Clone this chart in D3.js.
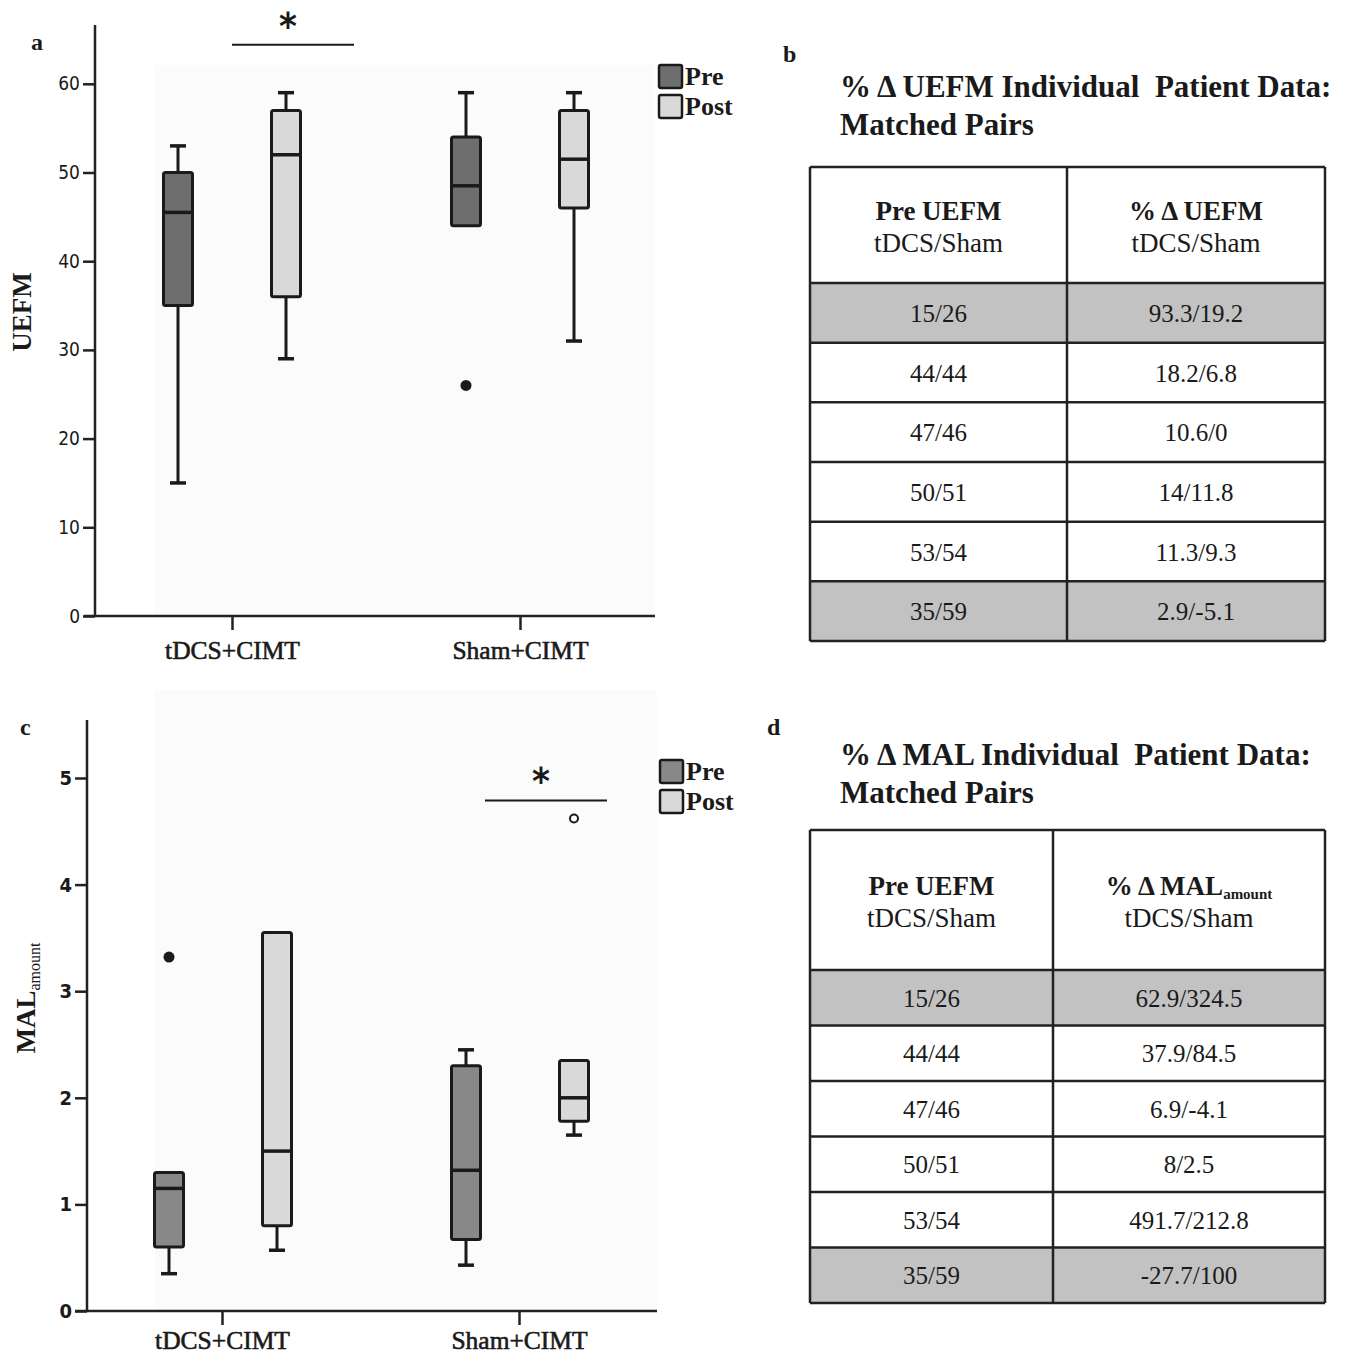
<!DOCTYPE html>
<html>
<head>
<meta charset="utf-8">
<script src="https://cdn.jsdelivr.net/npm/d3@7"></script>
<style>
  body { margin: 0; background: #fff; }
  svg text { fill: #1a1a1a; }
</style>
</head>
<body>
<div id="chart"></div>
<script>
// ---- data ----
var groups = ["tDCS+CIMT", "Sham+CIMT"];
var phases = ["Pre", "Post"];

// box stats: [group, phase, lowWhisker, q1, median, q3, highWhisker]
var uefmBoxes = [
  ["tDCS+CIMT", "Pre", 15, 35, 45.5, 50, 53],
  ["tDCS+CIMT", "Post", 29, 36, 52, 57, 59],
  ["Sham+CIMT", "Pre", 44, 44, 48.5, 54, 59],
  ["Sham+CIMT", "Post", 31, 46, 51.5, 57, 59]
];
var uefmOutliers = [["Sham+CIMT", "Pre", 26, "filled"]];
var uefmTicks = [0, 10, 20, 30, 40, 50, 60];
var uefmSig = ["tDCS+CIMT", 64.4];

var malBoxes = [
  ["tDCS+CIMT", "Pre", 0.35, 0.6, 1.15, 1.3, 1.3],
  ["tDCS+CIMT", "Post", 0.57, 0.8, 1.5, 3.55, 3.55],
  ["Sham+CIMT", "Pre", 0.43, 0.67, 1.32, 2.3, 2.45],
  ["Sham+CIMT", "Post", 1.65, 1.78, 2.0, 2.35, 2.35]
];
var malOutliers = [
  ["tDCS+CIMT", "Pre", 3.32, "filled"],
  ["Sham+CIMT", "Post", 4.62, "open"]
];
var malTicks = [0, 1, 2, 3, 4, 5];
var malSig = ["Sham+CIMT", 4.79];

var pairsPre = ["15/26", "44/44", "47/46", "50/51", "53/54", "35/59"];
var uefmChange = ["93.3/19.2", "18.2/6.8", "10.6/0", "14/11.8", "11.3/9.3", "2.9/-5.1"];
var malChange = ["62.9/324.5", "37.9/84.5", "6.9/-4.1", "8/2.5", "491.7/212.8", "-27.7/100"];
var shadedRows = [0, 5];

// ---- svg ----
var svgWidth = 1353, svgHeight = 1357;
var svg = d3.select("#chart").append("svg").attr("width", svgWidth).attr("height", svgHeight);

var serif = "'Liberation Serif', 'Times New Roman', serif";
var sans = "'DejaVu Sans Condensed', 'Liberation Sans', sans-serif";

function drawBoxPanel(opt) {
  var g = svg.append("g");

  // faint plot background
  g.append("rect")
    .attr("x", 155).attr("y", opt.bgTop)
    .attr("width", opt.xRight - 155).attr("height", opt.y0 - opt.bgTop)
    .attr("fill", "#fbfbfb");

  var y = d3.scaleLinear().domain([0, opt.yMax]).range([opt.y0, opt.yTop]);
  var x = d3.scalePoint().domain(groups).range([opt.xCat[0], opt.xCat[1]]);
  var xSub = d3.scaleOrdinal().domain(phases).range(opt.subOffset);

  // y axis
  var yAxis = d3.axisLeft(y).tickValues(opt.ticks).tickSize(12).tickPadding(3)
    .tickFormat(d3.format("d"));
  var ya = g.append("g").attr("transform", "translate(" + opt.xAxis + ",0)").call(yAxis);
  ya.select(".domain").remove();
  ya.selectAll(".tick line").attr("stroke", "#222").attr("stroke-width", 2.5);
  ya.selectAll(".tick text").attr("font-family", sans).attr("font-size", opt.tickFont)
    .attr("font-weight", opt.tickWeight).attr("fill", "#222");
  g.append("line").attr("x1", opt.xAxis).attr("x2", opt.xAxis)
    .attr("y1", opt.axisTop).attr("y2", opt.y0 + 1)
    .attr("stroke", "#222").attr("stroke-width", 2.5);

  // x axis
  var xAxis = d3.axisBottom(x).tickSize(14).tickPadding(opt.catPad);
  var xa = g.append("g").attr("transform", "translate(0," + opt.y0 + ")").call(xAxis);
  xa.select(".domain").remove();
  xa.selectAll(".tick line").attr("stroke", "#222").attr("stroke-width", 2.5);
  xa.selectAll(".tick text").attr("font-family", serif).attr("font-size", 25.5)
    .attr("fill", "#1a1a1a").attr("stroke", "#1a1a1a").attr("stroke-width", 0.6)
    .attr("dy", "0.9em");
  g.append("line").attr("x1", opt.xLeft).attr("x2", opt.xRight)
    .attr("y1", opt.y0).attr("y2", opt.y0)
    .attr("stroke", "#222").attr("stroke-width", 2.5);

  // boxes
  var bw = 29;
  opt.boxes.forEach(function(b) {
    var cx = x(b[0]) + xSub(b[1]);
    var fill = b[1] === "Pre" ? opt.preFill : "#d9d9d9";
    var bg = g.append("g");
    if (b[2] < b[3]) {
      bg.append("line").attr("x1", cx).attr("x2", cx).attr("y1", y(b[2])).attr("y2", y(b[3]))
        .attr("stroke", "#1a1a1a").attr("stroke-width", 3);
      bg.append("line").attr("x1", cx - 8).attr("x2", cx + 8).attr("y1", y(b[2])).attr("y2", y(b[2]))
        .attr("stroke", "#1a1a1a").attr("stroke-width", 3.5);
    }
    if (b[6] > b[5]) {
      bg.append("line").attr("x1", cx).attr("x2", cx).attr("y1", y(b[6])).attr("y2", y(b[5]))
        .attr("stroke", "#1a1a1a").attr("stroke-width", 3);
      bg.append("line").attr("x1", cx - 8).attr("x2", cx + 8).attr("y1", y(b[6])).attr("y2", y(b[6]))
        .attr("stroke", "#1a1a1a").attr("stroke-width", 3.5);
    }
    bg.append("rect").attr("x", cx - bw / 2).attr("y", y(b[5]))
      .attr("width", bw).attr("height", y(b[3]) - y(b[5]))
      .attr("rx", 2)
      .attr("fill", fill).attr("stroke", "#1a1a1a").attr("stroke-width", 3);
    bg.append("line").attr("x1", cx - bw / 2).attr("x2", cx + bw / 2)
      .attr("y1", y(b[4])).attr("y2", y(b[4]))
      .attr("stroke", "#1a1a1a").attr("stroke-width", 3.5);
  });

  // outliers
  opt.outliers.forEach(function(o) {
    var cx = x(o[0]) + xSub(o[1]);
    if (o[3] === "filled") {
      g.append("circle").attr("cx", cx).attr("cy", y(o[2])).attr("r", 5.5).attr("fill", "#1a1a1a");
    } else {
      g.append("circle").attr("cx", cx).attr("cy", y(o[2])).attr("r", 4)
        .attr("fill", "#fff").attr("stroke", "#1a1a1a").attr("stroke-width", 2);
    }
  });

  // significance bar
  var sx = x(opt.sig[0]) + opt.sigShift;
  g.append("line").attr("x1", sx).attr("x2", sx + 122)
    .attr("y1", y(opt.sig[1])).attr("y2", y(opt.sig[1]))
    .attr("stroke", "#1a1a1a").attr("stroke-width", 2);
  g.append("text").attr("x", sx + 56).attr("y", y(opt.sig[1]) - 6)
    .attr("text-anchor", "middle").attr("font-family", sans).attr("font-weight", "bold")
    .attr("font-size", 38).text("*");

  // legend
  var lg = g.append("g");
  phases.forEach(function(p, i) {
    lg.append("rect").attr("x", opt.legX).attr("y", opt.legY + i * 30)
      .attr("width", 23).attr("height", 23).attr("rx", 2)
      .attr("fill", p === "Pre" ? opt.preFill : "#d9d9d9")
      .attr("stroke", "#1a1a1a").attr("stroke-width", 2.5);
    lg.append("text").attr("x", opt.legX + 26).attr("y", opt.legY + i * 30 + 20)
      .attr("font-family", serif).attr("font-weight", "bold").attr("font-size", 26)
      .text(p);
  });

  // panel letter
  g.append("text").attr("x", opt.letterX).attr("y", opt.letterY)
    .attr("font-family", serif).attr("font-weight", "bold").attr("font-size", 24)
    .text(opt.letter);

  return g;
}

var gA = drawBoxPanel({
  y0: 616, yTop: 616 - 6 * 88.7, yMax: 60, axisTop: 25, bgTop: 65,
  xAxis: 95, xLeft: 84, xRight: 655, xCat: [232, 520], subOffset: [-54, 54],
  ticks: uefmTicks, tickFont: 19, tickWeight: "normal", catPad: 6,
  boxes: uefmBoxes, outliers: uefmOutliers, sig: uefmSig, sigShift: 0,
  preFill: "#6e6e6e", legX: 659, legY: 65, letter: "a", letterX: 31, letterY: 50
});
gA.append("text").attr("transform", "translate(31,312) rotate(-90)")
  .attr("text-anchor", "middle").attr("font-family", serif).attr("font-weight", "bold")
  .attr("font-size", 27).text("UEFM");

var gC = drawBoxPanel({
  y0: 1311, yTop: 1311 - 5 * 106.6, yMax: 5, axisTop: 720, bgTop: 690,
  xAxis: 87, xLeft: 75, xRight: 657, xCat: [222, 519], subOffset: [-53, 55],
  ticks: malTicks, tickFont: 20, tickWeight: "bold", catPad: 1,
  boxes: malBoxes, outliers: malOutliers, sig: malSig, sigShift: -34,
  preFill: "#888888", legX: 660, legY: 760, letter: "c", letterX: 20, letterY: 735
});

var malLabel = gC.append("text").attr("transform", "translate(35,998) rotate(-90)")
  .attr("text-anchor", "middle").attr("font-family", serif).attr("font-weight", "bold")
  .attr("font-size", 27);
malLabel.append("tspan").text("MAL");
malLabel.append("tspan").attr("font-size", 16).attr("font-weight", "normal").attr("dy", 5).text("amount");

// ---- tables ----
function drawTable(opt) {
  var g = svg.append("g");
  g.append("text").attr("x", opt.letterX).attr("y", opt.letterY)
    .attr("font-family", serif).attr("font-weight", "bold").attr("font-size", 24).text(opt.letter);
  opt.title.forEach(function(t, i) {
    g.append("text").attr("x", 840).attr("y", opt.titleY + i * 38)
      .attr("font-family", serif).attr("font-weight", "bold").attr("font-size", 31)
      .attr("xml:space", "preserve").text(t);
  });

  var rowY = d3.scaleBand().domain(d3.range(pairsPre.length))
    .range([opt.headBottom, opt.bottom]);
  var colX = [opt.left, opt.mid, opt.right];

  // row fills
  g.selectAll(".row").data(pairsPre).enter().append("rect")
    .attr("x", opt.left).attr("y", function(d, i) { return rowY(i); })
    .attr("width", opt.right - opt.left).attr("height", rowY.bandwidth())
    .attr("fill", function(d, i) { return shadedRows.indexOf(i) >= 0 ? "#c2c2c2" : "#fff"; });
  g.append("rect").attr("x", opt.left).attr("y", opt.top)
    .attr("width", opt.right - opt.left).attr("height", opt.headBottom - opt.top).attr("fill", "#fff");

  // grid lines
  d3.range(pairsPre.length + 1).forEach(function(i) {
    var yy = i === pairsPre.length ? opt.bottom : rowY(i);
    g.append("line").attr("x1", opt.left).attr("x2", opt.right).attr("y1", yy).attr("y2", yy)
      .attr("stroke", "#222").attr("stroke-width", 2.5);
  });
  g.append("line").attr("x1", opt.left).attr("x2", opt.right).attr("y1", opt.top).attr("y2", opt.top)
    .attr("stroke", "#222").attr("stroke-width", 2.5);
  colX.forEach(function(xx) {
    g.append("line").attr("x1", xx).attr("x2", xx).attr("y1", opt.top).attr("y2", opt.bottom)
      .attr("stroke", "#222").attr("stroke-width", 2.5);
  });

  // headers
  var c1 = (opt.left + opt.mid) / 2, c2 = (opt.mid + opt.right) / 2;
  g.append("text").attr("x", c1).attr("y", opt.headY).attr("text-anchor", "middle")
    .attr("font-family", serif).attr("font-weight", "bold").attr("font-size", 27).text("Pre UEFM");
  var h2 = g.append("text").attr("x", c2).attr("y", opt.headY).attr("text-anchor", "middle")
    .attr("font-family", serif).attr("font-weight", "bold").attr("font-size", 27);
  h2.append("tspan").text(opt.head2);
  if (opt.head2sub) {
    h2.append("tspan").attr("font-size", 15).attr("dy", 4).text(opt.head2sub);
  }
  [c1, c2].forEach(function(cx) {
    g.append("text").attr("x", cx).attr("y", opt.headY + 32).attr("text-anchor", "middle")
      .attr("font-family", serif).attr("font-size", 27).text("tDCS/Sham");
  });

  // body
  pairsPre.forEach(function(d, i) {
    var cy = rowY(i) + rowY.bandwidth() / 2 + 9;
    g.append("text").attr("x", c1).attr("y", cy).attr("text-anchor", "middle")
      .attr("font-family", serif).attr("font-size", 25).text(d);
    g.append("text").attr("x", c2).attr("y", cy).attr("text-anchor", "middle")
      .attr("font-family", serif).attr("font-size", 25).text(opt.values[i]);
  });
}

drawTable({
  letter: "b", letterX: 783, letterY: 62,
  title: ["% \u0394 UEFM Individual  Patient Data:", "Matched Pairs"], titleY: 97,
  left: 810, mid: 1067, right: 1325, top: 167, headBottom: 283, bottom: 641,
  headY: 220, head2: "% \u0394 UEFM", head2sub: null, values: uefmChange
});

drawTable({
  letter: "d", letterX: 767, letterY: 735,
  title: ["% \u0394 MAL Individual  Patient Data:", "Matched Pairs"], titleY: 765,
  left: 810, mid: 1053, right: 1325, top: 830, headBottom: 970, bottom: 1303,
  headY: 895, head2: "% \u0394 MAL", head2sub: "amount", values: malChange
});
</script>
</body>
</html>
